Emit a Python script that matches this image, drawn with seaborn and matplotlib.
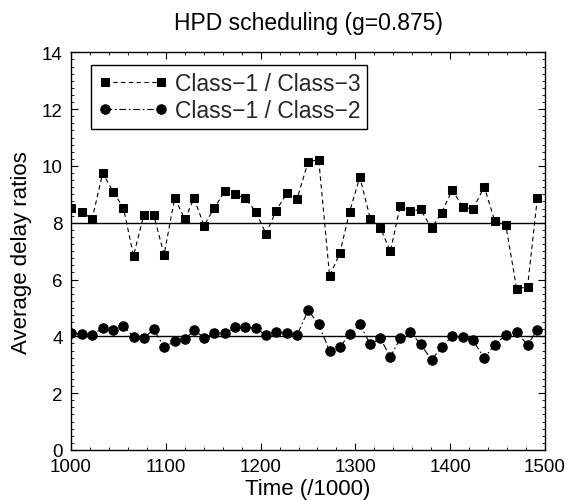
import matplotlib
matplotlib.use("Agg")
import matplotlib.pyplot as plt
from matplotlib.ticker import MultipleLocator
import matplotlib.transforms as mtransforms
import seaborn as sns
import pandas as pd

time = [1000.0, 1011.1, 1022.3, 1033.4, 1044.5, 1055.3, 1066.0, 1076.7, 1087.1, 1098.2,
        1109.4, 1120.1, 1129.7, 1140.4, 1151.2, 1162.7, 1173.4, 1183.8, 1194.9, 1205.7,
        1216.4, 1227.6, 1238.3, 1250.2, 1261.3, 1272.8, 1283.6, 1293.9, 1304.7, 1315.8,
        1326.2, 1336.9, 1347.3, 1358.0, 1368.8, 1380.3, 1391.0, 1402.1, 1413.3, 1424.0,
        1435.9, 1447.0, 1458.6, 1470.1, 1481.6, 1491.9]

ratio_1_3 = [8.53, 8.39, 8.13, 9.75, 9.09, 8.52, 6.84, 8.26, 8.28, 6.88,
             8.87, 8.12, 8.86, 7.90, 8.53, 9.13, 9.00, 8.86, 8.39, 7.61,
             8.43, 9.03, 8.82, 10.15, 10.22, 6.12, 6.93, 8.39, 9.61, 8.13,
             7.83, 6.99, 8.60, 8.40, 8.47, 7.80, 8.36, 9.15, 8.56, 8.48,
             9.27, 8.06, 7.93, 5.68, 5.74, 8.86]

ratio_1_2 = [4.11, 4.10, 4.04, 4.30, 4.22, 4.36, 3.98, 3.93, 4.25, 3.63,
             3.82, 3.89, 4.22, 3.96, 4.11, 4.11, 4.33, 4.33, 4.28, 4.04,
             4.15, 4.13, 4.04, 4.92, 4.42, 3.49, 3.62, 4.08, 4.42, 3.72,
             3.93, 3.28, 3.93, 4.15, 3.72, 3.18, 3.61, 4.02, 3.97, 3.86,
             3.23, 3.71, 4.04, 4.16, 3.69, 4.24]

target_levels = [8, 4]
label_1_3 = "Class\u22121 / Class\u22123"
label_1_2 = "Class\u22121 / Class\u22122"

sns.set_theme(style="ticks")
plt.rcParams['font.family'] = ['Liberation Sans', 'DejaVu Sans']

df13 = pd.DataFrame({"time": time, "ratio": ratio_1_3})
df12 = pd.DataFrame({"time": time, "ratio": ratio_1_2})

fig = plt.figure(figsize=(5.69, 5.02), dpi=100)
ax = fig.add_axes([0.1248, 0.1016, 0.833, 0.7922])

for lvl in target_levels:
    ax.axhline(lvl, color="black", lw=1.0, zorder=1)

sns.lineplot(data=df13, x="time", y="ratio", ax=ax, color="black", lw=0.8,
             linestyle=(0, (4, 3)), marker="s", markersize=6.2,
             markeredgecolor="black", markerfacecolor="black",
             label=label_1_3, zorder=3)
sns.lineplot(data=df12, x="time", y="ratio", ax=ax, color="black", lw=0.8,
             linestyle=(0, (6, 2.5, 1.5, 2.5)), marker="o", markersize=6.8,
             markeredgecolor="black", markerfacecolor="black",
             label=label_1_2, zorder=3)

ax.set_xlim(1000, 1500)
ax.set_ylim(0, 14)
ax.xaxis.set_major_locator(MultipleLocator(100))
ax.xaxis.set_minor_locator(MultipleLocator(20))
ax.yaxis.set_major_locator(MultipleLocator(2))
ax.yaxis.set_minor_locator(MultipleLocator(0.25))
ax.tick_params(which="both", direction="in", top=True, right=True, color="black",
               labelsize=13.5, labelcolor="black")
ax.tick_params(axis="x", pad=6)
ax.tick_params(axis="y", pad=6)
ax.tick_params(which="major", length=5, width=0.8)
ax.tick_params(which="minor", length=2.5, width=0.6)
for s in ax.spines.values():
    s.set_color("black")
    s.set_linewidth(1.0)

fig.canvas.draw()
ylabels = ax.get_yticklabels()
if ylabels:
    off = mtransforms.ScaledTranslation(0, 4 / 72, fig.dpi_scale_trans)
    ylabels[0].set_transform(ylabels[0].get_transform() + off)

ax.set_xlabel("Time (/1000)", fontsize=16, color="black", labelpad=2)
ax.set_ylabel("Average delay ratios", fontsize=16, color="black", labelpad=7)
ax.set_title("HPD scheduling (g=0.875)", fontsize=16.5, color="black", pad=17)

leg = ax.legend(loc="upper left", bbox_to_anchor=(0.042, 0.967), numpoints=2,
                handlelength=3.05, fontsize=16.5, frameon=True, fancybox=False,
                borderpad=0.3, labelspacing=0.15, handletextpad=0.3,
                borderaxespad=0.0)
leg.get_frame().set_edgecolor("black")
leg.get_frame().set_linewidth(1.0)
leg.get_frame().set_alpha(1)

fig.savefig("out.png", dpi=100)
